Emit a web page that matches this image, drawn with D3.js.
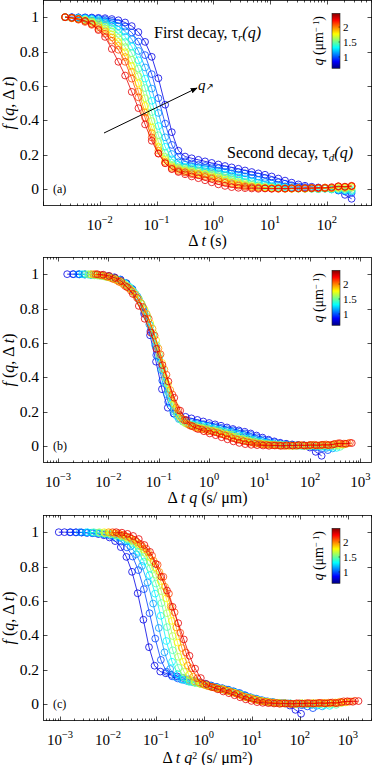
<!DOCTYPE html>
<html><head><meta charset="utf-8">
<script src="https://cdn.jsdelivr.net/npm/d3@7"></script>
<style>
body{margin:0;background:#fff}
svg{display:block}
text{font-family:"Liberation Serif","Times New Roman",serif;fill:#000}
</style>
</head><body>
<svg id="chart" width="374" height="765"></svg>
<script>
// ---------------- data ----------------
const lagTimes = [0.00245, 0.00322, 0.00421, 0.00552, 0.00724, 0.00948, 0.0124, 0.0163, 0.0213, 0.0280,
  0.0366, 0.0480, 0.0629, 0.0824, 0.108, 0.142, 0.186, 0.243, 0.319, 0.417,
  0.547, 0.717, 0.939, 1.23, 1.61, 2.11, 2.77, 3.63, 4.76, 6.23,
  8.17, 10.7, 14.0, 18.4, 24.1, 31.6, 41.3, 54.2, 71.0, 93.0,
  122, 160, 209, 274];
const qValues = [0.62, 0.824, 1.029, 1.233, 1.438, 1.642, 1.847, 2.051, 2.256, 2.46];

const fq1 = [1.000, 1.000, 0.999, 0.999, 0.998, 0.996, 0.994, 0.989, 0.982, 0.969, 0.948, 0.913, 0.856, 0.769, 0.644, 0.490, 0.330, 0.222, 0.188, 0.178, 0.169, 0.160, 0.151, 0.142, 0.133, 0.125, 0.117, 0.107, 0.098, 0.090, 0.082, 0.072, 0.060, 0.048, 0.036, 0.026, 0.018, 0.012, 0.008, 0.005, 0.003, -0.010, -0.035, -0.058];
const fq2 = [1.000, 0.999, 0.998, 0.997, 0.995, 0.992, 0.987, 0.979, 0.966, 0.945, 0.911, 0.858, 0.779, 0.668, 0.528, 0.380, 0.256, 0.187, 0.160, 0.148, 0.140, 0.133, 0.126, 0.120, 0.114, 0.105, 0.097, 0.090, 0.082, 0.072, 0.063, 0.050, 0.038, 0.030, 0.021, 0.014, 0.010, 0.006, 0.004, 0.002, 0.000, -0.008, -0.015, -0.025];
const fq3 = [1.000, 0.998, 0.997, 0.995, 0.992, 0.987, 0.979, 0.967, 0.947, 0.917, 0.871, 0.803, 0.707, 0.584, 0.442, 0.300, 0.203, 0.156, 0.141, 0.133, 0.126, 0.121, 0.115, 0.106, 0.098, 0.090, 0.083, 0.073, 0.063, 0.052, 0.039, 0.031, 0.022, 0.015, 0.010, 0.006, 0.004, 0.002, 0.000, 0.002, -0.003, -0.006, -0.012, -0.015];
const fq4 = [1.000, 0.997, 0.995, 0.992, 0.987, 0.980, 0.969, 0.952, 0.926, 0.886, 0.829, 0.749, 0.642, 0.513, 0.366, 0.245, 0.172, 0.141, 0.129, 0.124, 0.118, 0.112, 0.101, 0.093, 0.084, 0.077, 0.068, 0.057, 0.043, 0.035, 0.026, 0.018, 0.012, 0.008, 0.005, 0.003, 0.002, 0.000, -0.002, 0.001, -0.004, -0.006, -0.008, -0.012];
const fq5 = [1.000, 0.995, 0.992, 0.988, 0.981, 0.972, 0.957, 0.935, 0.903, 0.856, 0.790, 0.701, 0.587, 0.447, 0.312, 0.210, 0.153, 0.129, 0.122, 0.116, 0.107, 0.099, 0.092, 0.085, 0.075, 0.065, 0.054, 0.040, 0.033, 0.023, 0.016, 0.011, 0.007, 0.004, 0.003, 0.001, 0.000, 0.002, -0.001, 0.001, -0.002, 0.000, -0.004, -0.006];
const fq6 = [1.000, 0.993, 0.989, 0.983, 0.975, 0.963, 0.945, 0.918, 0.880, 0.826, 0.752, 0.656, 0.528, 0.395, 0.274, 0.186, 0.140, 0.123, 0.115, 0.107, 0.098, 0.089, 0.084, 0.074, 0.064, 0.053, 0.040, 0.032, 0.023, 0.015, 0.011, 0.007, 0.004, 0.003, 0.001, 0.000, 0.002, 0.000, 0.003, 0.001, 0.002, 0.004, 0.002, 0.005];
const fq7 = [1.000, 0.996, 0.991, 0.982, 0.970, 0.953, 0.931, 0.900, 0.856, 0.796, 0.715, 0.615, 0.483, 0.357, 0.245, 0.169, 0.132, 0.117, 0.107, 0.099, 0.090, 0.085, 0.074, 0.065, 0.053, 0.040, 0.032, 0.023, 0.016, 0.011, 0.007, 0.004, 0.003, 0.001, 0.000, 0.003, 0.001, 0.004, 0.002, 0.005, 0.003, 0.008, 0.006, 0.010];
const fq8 = [1.000, 0.995, 0.988, 0.977, 0.962, 0.942, 0.917, 0.882, 0.833, 0.768, 0.682, 0.567, 0.445, 0.325, 0.223, 0.158, 0.125, 0.110, 0.100, 0.093, 0.086, 0.076, 0.066, 0.056, 0.042, 0.034, 0.025, 0.017, 0.012, 0.007, 0.005, 0.003, 0.001, 0.000, 0.002, 0.004, 0.001, 0.005, 0.003, 0.007, 0.005, 0.012, 0.009, 0.014];
const fq9 = [1.000, 0.994, 0.985, 0.972, 0.955, 0.931, 0.903, 0.863, 0.810, 0.740, 0.642, 0.533, 0.414, 0.299, 0.207, 0.149, 0.117, 0.103, 0.095, 0.085, 0.079, 0.069, 0.059, 0.045, 0.035, 0.027, 0.018, 0.012, 0.008, 0.005, 0.003, 0.002, 0.000, 0.003, 0.001, 0.004, 0.002, 0.006, 0.003, 0.008, 0.006, 0.015, 0.013, 0.018];
const fq10 = [1.000, 0.997, 0.990, 0.978, 0.960, 0.925, 0.885, 0.815, 0.740, 0.660, 0.565, 0.470, 0.375, 0.280, 0.205, 0.150, 0.115, 0.098, 0.085, 0.072, 0.062, 0.050, 0.038, 0.026, 0.017, 0.010, 0.006, 0.004, 0.002, 0.000, 0.002, 0.000, 0.003, 0.001, 0.004, 0.002, 0.005, 0.003, 0.006, 0.004, 0.010, 0.015, 0.012, 0.016];
const fCurves = [fq1, fq2, fq3, fq4, fq5, fq6, fq7, fq8, fq9, fq10];

const yTickValues = [0, 0.2, 0.4, 0.6, 0.8, 1];
const yTickLabels = ["0", "0.2", "0.4", "0.6", "0.8", "1"];
const colorbarTicks = [1, 1.5, 2];
const colorbarTickLabels = ["1", "1.5", "2"];
const colorbarRange = [0.62, 2.46];
const expLabelsA = [-2, -1, 0, 1, 2];
const expLabelsBC = [-3, -2, -1, 0, 1, 2, 3];

// ---------------- layout ----------------
const svg = d3.select("#chart");
const plotL = 43, plotR = 372, plotH = 206;
const panels = [
  {top: 0,   xDomain: [1e-3, Math.pow(10, 2.797)], pow: 0, exps: expLabelsA, tag: "(a)",
   title: [["Δ ", 0], ["t", 1], ["  (s)", 0]]},
  {top: 257, xDomain: [Math.pow(10, -3.298), Math.pow(10, 3.23)], pow: 1, exps: expLabelsBC, tag: "(b)",
   title: [["Δ ", 0], ["t", 1], [" ", 0], ["q", 1], [" (s/ μm)", 0]]},
  {top: 515, xDomain: [Math.pow(10, -3.354), Math.pow(10, 3.5)], pow: 2, exps: expLabelsBC, tag: "(c)",
   title: [["Δ ", 0], ["t", 1], [" ", 0], ["q", 1], ["2", 2], [" (s/ μm", 3], ["2", 2], [")", 3]]}
];

// jet colormap
const jetStops = [0, 0.125, 0.375, 0.625, 0.875, 1];
const jetColors = ["#000080", "#0000ff", "#00ffff", "#ffff00", "#ff0000", "#800000"];
const jet = d3.scaleLinear().domain(jetStops).range(jetColors).interpolate(d3.interpolateRgb);
const qToJet = d3.scaleLinear().domain(d3.extent(qValues)).range([0.1, 0.9]);
const curveColor = q => jet(qToJet(q));

const defs = svg.append("defs");
const grad = defs.append("linearGradient").attr("id", "jetgrad")
  .attr("x1", 0).attr("y1", 1).attr("x2", 0).attr("y2", 0);
jetStops.forEach((s, i) => grad.append("stop").attr("offset", s).attr("stop-color", jetColors[i]));
defs.append("marker").attr("id", "arrowhead").attr("viewBox", "0 0 10 10")
  .attr("refX", 9).attr("refY", 5).attr("markerWidth", 7).attr("markerHeight", 7)
  .attr("orient", "auto").attr("markerUnits", "userSpaceOnUse")
  .append("path").attr("d", "M0,1 L10,5 L0,9 z").attr("fill", "#000");

// style: 0 normal, 1 italic, 2 superscript (raised), 3 normal returning from superscript
function addParts(textSel, parts, size) {
  let raised = false;
  const rise = size * 0.26;
  parts.forEach(([t, style]) => {
    const ts = textSel.append("tspan").text(t);
    if (style === 1) ts.attr("font-style", "italic");
    if (style === 2) {
      ts.attr("font-size", size * 0.62);
      if (!raised) ts.attr("dy", -rise);
      raised = true;
    } else if (raised) {
      ts.attr("dy", rise);
      raised = false;
    }
  });
}

panels.forEach((p, pi) => {
  const top = p.top, bottom = top + plotH;
  const x = d3.scaleLog().domain(p.xDomain).range([plotL, plotR]);
  const y = d3.scaleLinear().domain([-0.1, 1.1]).range([bottom, top]);
  const g = svg.append("g");

  defs.append("clipPath").attr("id", "clip" + pi).append("rect")
    .attr("x", plotL).attr("y", top).attr("width", plotR - plotL).attr("height", plotH);

  // data
  const dg = g.append("g").attr("clip-path", `url(#clip${pi})`);
  const line = d3.line().defined(d => d[1] != null).x(d => x(d[0])).y(d => y(d[1]));
  fCurves.forEach((vals, ci) => {
    const q = qValues[ci];
    const col = curveColor(q);
    const pts = vals.map((v, k) => [lagTimes[k] * Math.pow(q, p.pow), v]);
    dg.append("path").attr("d", line(pts)).attr("fill", "none")
      .attr("stroke", col).attr("stroke-width", 0.8);
    dg.selectAll(null).data(pts.filter(d => d[1] != null)).enter().append("circle")
      .attr("cx", d => x(d[0])).attr("cy", d => y(d[1])).attr("r", 3.4)
      .attr("fill", "none").attr("stroke", col).attr("stroke-width", 0.8);
  });

  // box
  g.append("rect").attr("x", plotL + 0.5).attr("y", top + 0.5)
    .attr("width", plotR - plotL - 1).attr("height", plotH - 1)
    .attr("fill", "none").attr("stroke", "#000").attr("stroke-width", 0.8);

  // x ticks
  const [d0, d1] = p.xDomain;
  const e0 = Math.floor(Math.log10(d0)), e1 = Math.ceil(Math.log10(d1));
  for (let e = e0; e <= e1; e++) {
    for (let m = 1; m <= 9; m++) {
      const v = m * Math.pow(10, e);
      if (v < d0 * 0.999 || v > d1 * 1.001) continue;
      const xx = Math.round(x(v)) + 0.5;
      const len = m === 1 ? 4.5 : 2.5;
      g.append("line").attr("x1", xx).attr("x2", xx).attr("y1", bottom).attr("y2", bottom - len)
        .attr("stroke", "#000").attr("stroke-width", 0.7);
      g.append("line").attr("x1", xx).attr("x2", xx).attr("y1", top).attr("y2", top + len)
        .attr("stroke", "#000").attr("stroke-width", 0.7);
    }
  }
  p.exps.forEach(e => {
    const t = g.append("text").attr("x", x(Math.pow(10, e))).attr("y", bottom + 24)
      .attr("text-anchor", "middle").attr("font-size", 15);
    t.append("tspan").text("10");
    t.append("tspan").text(e < 0 ? "\u2212" + (-e) : String(e)).attr("font-size", 10.5).attr("dy", -7);
  });

  // y ticks
  yTickValues.forEach((v, i) => {
    const yy = Math.round(y(v)) + 0.5;
    g.append("line").attr("x1", plotL).attr("x2", plotL + 4.5).attr("y1", yy).attr("y2", yy)
      .attr("stroke", "#000").attr("stroke-width", 0.7);
    g.append("line").attr("x1", plotR).attr("x2", plotR - 4.5).attr("y1", yy).attr("y2", yy)
      .attr("stroke", "#000").attr("stroke-width", 0.7);
    g.append("text").attr("x", 39).attr("y", y(v) + 5).attr("text-anchor", "end")
      .attr("font-size", 15.5).text(yTickLabels[i]);
  });

  // y title
  const yt = g.append("text").attr("transform", `translate(14,${(top + bottom) / 2}) rotate(-90)`)
    .attr("text-anchor", "middle").attr("font-size", 16);
  addParts(yt, [["f", 1], [" (", 0], ["q", 1], [", Δ ", 0], ["t", 1], [")", 0]], 16);

  // x title
  const xt = g.append("text").attr("x", (plotL + plotR) / 2).attr("y", bottom + (pi === 2 ? 42 : 40))
    .attr("text-anchor", "middle").attr("font-size", 16);
  addParts(xt, p.title, 16);

  // panel tag
  g.append("text").attr("x", 53).attr("y", y(0) + 4.5).attr("font-size", 12).text(p.tag);

  // colorbar
  const cbTop = top + 13.3, cbBot = top + 68.3, cbX = 332, cbW = 8;
  const cs = d3.scaleLinear().domain(colorbarRange).range([cbBot, cbTop]);
  g.append("rect").attr("x", cbX).attr("y", cbTop).attr("width", cbW).attr("height", cbBot - cbTop)
    .attr("fill", "url(#jetgrad)").attr("stroke", "#222").attr("stroke-width", 0.6);
  colorbarTicks.forEach((v, i) => {
    g.append("line").attr("x1", cbX + cbW).attr("x2", cbX + cbW - 1.5).attr("y1", cs(v)).attr("y2", cs(v))
      .attr("stroke", "#000").attr("stroke-width", 0.5);
    g.append("text").attr("x", cbX + cbW + 3).attr("y", cs(v) + 3.8).attr("font-size", 11)
      .text(colorbarTickLabels[i]);
  });
  const cl = g.append("text").attr("transform", `translate(323,${(cbTop + cbBot) / 2}) rotate(-90)`)
    .attr("text-anchor", "middle").attr("font-size", 14);
  addParts(cl, [["q", 1], [" (μm", 0], ["\u2212 1", 2], [")", 3]], 14);

  // annotations in panel (a)
  if (pi === 0) {
    const t1 = g.append("text").attr("x", 154).attr("y", 38).attr("font-size", 16);
    t1.append("tspan").text("First decay, τ");
    t1.append("tspan").text("r").attr("font-style", "italic").attr("font-size", 11).attr("dy", 3);
    t1.append("tspan").text("(q)").attr("font-style", "italic").attr("dy", -3);
    const t2 = g.append("text").attr("x", 227).attr("y", 158).attr("font-size", 16);
    t2.append("tspan").text("Second decay, τ");
    t2.append("tspan").text("d").attr("font-style", "italic").attr("font-size", 11).attr("dy", 3);
    t2.append("tspan").text("(q)").attr("font-style", "italic").attr("dy", -3);
    g.append("line").attr("x1", 104).attr("y1", 133).attr("x2", 197).attr("y2", 88)
      .attr("stroke", "#000").attr("stroke-width", 1).attr("marker-end", "url(#arrowhead)");
    const t3 = g.append("text").attr("x", 198).attr("y", 90).attr("font-size", 15);
    t3.append("tspan").text("q").attr("font-style", "italic");
    t3.append("tspan").text("\u2197").attr("font-size", 10).attr("font-family", "DejaVu Sans");
  }
});
</script>
</body></html>
